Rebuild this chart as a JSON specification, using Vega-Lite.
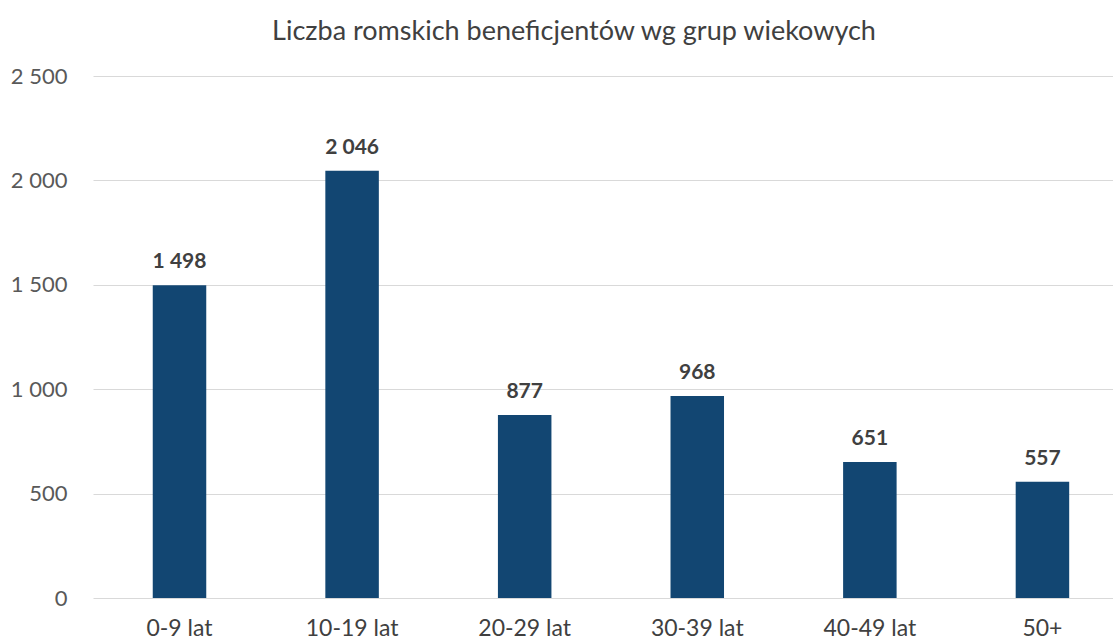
{
  "$schema": "https://vega.github.io/schema/vega-lite/v6.json",
  "width": 1020,
  "height": 522,
  "autosize": "none",
  "padding": {"left": 93, "top": 76, "right": 0, "bottom": 41},
  "background": "white",
  "config": {
    "view": {"stroke": null},
    "font": "Lato",
    "locale": {"number": {"decimal": ",", "thousands": " ", "grouping": [3], "currency": ["", " zł"]}}
  },
  "title": {
    "text": "Liczba romskich beneficjentów wg grup wiekowych",
    "font": "Lato",
    "fontSize": 27,
    "fontWeight": "normal",
    "color": "#404040",
    "anchor": "middle",
    "dx": -29,
    "offset": 19
  },
  "data": {
    "values": [
      {"grupa": "0-9 lat", "liczba": 1498},
      {"grupa": "10-19 lat", "liczba": 2046},
      {"grupa": "20-29 lat", "liczba": 877},
      {"grupa": "30-39 lat", "liczba": 968},
      {"grupa": "40-49 lat", "liczba": 651},
      {"grupa": "50+", "liczba": 557}
    ]
  },
  "encoding": {
    "x": {
      "field": "grupa",
      "type": "nominal",
      "sort": null,
      "title": null,
      "scale": {"paddingInner": 0.69, "paddingOuter": 0.3, "align": 0.577},
      "axis": {"labelAngle": 0, "labelFontSize": 23, "labelColor": "#404040", "labelPadding": 19, "ticks": false, "domain": false, "grid": false}
    },
    "y": {
      "field": "liczba",
      "type": "quantitative",
      "title": null,
      "scale": {"domain": [0, 2500]},
      "axis": {"values": [0, 500, 1000, 1500, 2000, 2500], "format": ",d", "labelFontSize": 22, "labelColor": "#595959", "labelPadding": 26, "ticks": false, "domain": false, "gridColor": "#d9d9d9", "gridWidth": 1}
    }
  },
  "layer": [
    {"mark": {"type": "bar", "color": "#124672"}},
    {
      "mark": {"type": "text", "baseline": "alphabetic", "dy": -17, "fontSize": 21, "fontWeight": "bold", "color": "#404040"},
      "encoding": {"text": {"field": "liczba", "type": "quantitative", "format": ",d"}}
    }
  ]
}
